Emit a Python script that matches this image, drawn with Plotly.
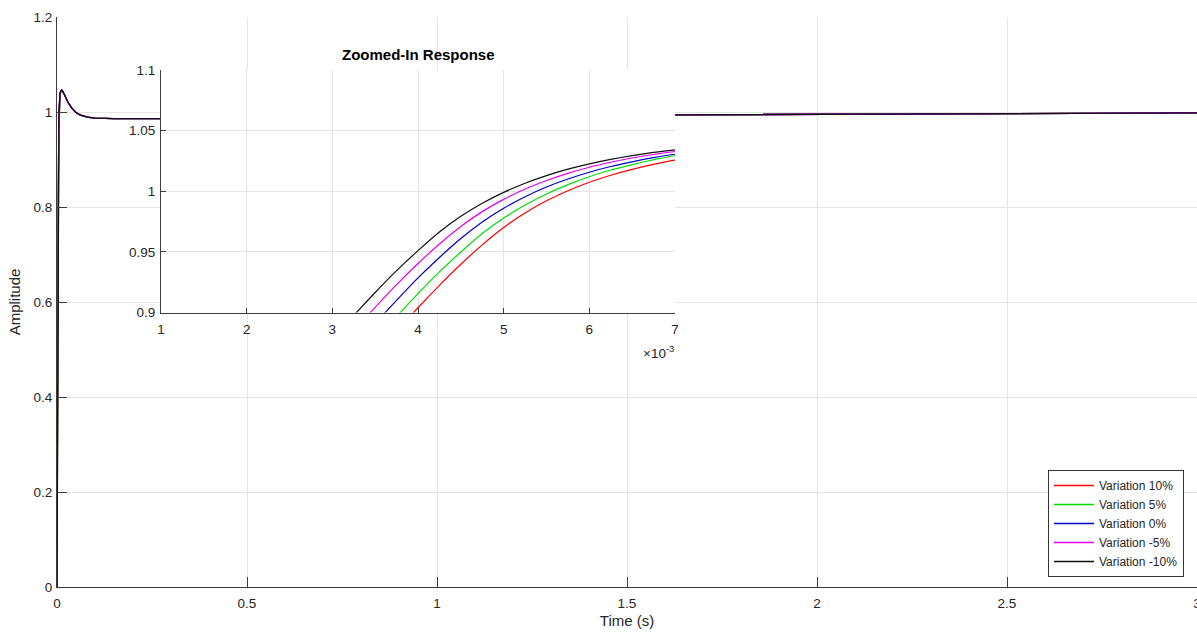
import plotly.graph_objects as go

# Time base in seconds: dense through the rise, coarse once the response settles
time_s = [0, 0.0005, 0.001, 0.0015, 0.002, 0.0025,
          0.003, 0.00325, 0.0035, 0.00375, 0.004, 0.00425, 0.0045, 0.00475,
          0.005, 0.00525, 0.0055, 0.00575, 0.006, 0.00625, 0.0065, 0.00675, 0.007,
          0.008, 0.009, 0.010, 0.011, 0.012, 0.014, 0.016, 0.020,
          0.025, 0.03, 0.04, 0.05, 0.06, 0.08, 0.1, 0.15, 0.27, 0.5, 1.0, 1.6, 2.0, 2.5, 3.0]

# Step-response amplitude for each parameter variation
amp_var_p10 = [0, 0.03, 0.22, 0.45, 0.665, 0.76,
               0.8149, 0.8403, 0.8632, 0.8843, 0.9039, 0.9224, 0.9398, 0.9558,
               0.9701, 0.9821, 0.9921, 1.0004, 1.0074, 1.0132, 1.0181, 1.0222, 1.0257,
               1.0335, 1.0382, 1.0414, 1.0435, 1.0447, 1.0444, 1.042, 1.0352,
               1.027, 1.019, 1.007, 0.999, 0.994, 0.989, 0.987, 0.986, 0.986, 0.988, 0.991, 0.994, 0.9953, 0.9967, 0.998]
amp_var_p5 = [0, 0.04, 0.26, 0.48, 0.69, 0.78,
              0.8314, 0.8548, 0.8767, 0.8966, 0.9156, 0.9335, 0.9499, 0.9652,
              0.9779, 0.9886, 0.9978, 1.0055, 1.012, 1.0175, 1.022, 1.026, 1.0293,
              1.0362, 1.0402, 1.0428, 1.0445, 1.0455, 1.0448, 1.0424, 1.0354,
              1.027, 1.019, 1.007, 0.999, 0.994, 0.989, 0.987, 0.986, 0.986, 0.988, 0.991, 0.994, 0.9953, 0.9967, 0.998]
amp_var_0 = [0, 0.06, 0.30, 0.52, 0.715, 0.80,
             0.848, 0.870, 0.891, 0.910, 0.9285, 0.9454, 0.961, 0.9746,
             0.986, 0.9955, 1.0035, 1.0101, 1.0157, 1.0204, 1.0243, 1.0277, 1.0305,
             1.0372, 1.0409, 1.0434, 1.045, 1.0458, 1.045, 1.0426, 1.0356,
             1.027, 1.019, 1.007, 0.999, 0.994, 0.989, 0.987, 0.986, 0.986, 0.988, 0.991, 0.994, 0.9953, 0.9967, 0.998]
amp_var_m5 = [0, 0.08, 0.33, 0.55, 0.735, 0.815,
              0.8634, 0.8847, 0.9043, 0.923, 0.9404, 0.9565, 0.971, 0.9832,
              0.9933, 1.0018, 1.0089, 1.0148, 1.0198, 1.0239, 1.0274, 1.0303, 1.0328,
              1.0387, 1.042, 1.0442, 1.0456, 1.0462, 1.0453, 1.0428, 1.0358,
              1.027, 1.019, 1.007, 0.999, 0.994, 0.989, 0.987, 0.986, 0.986, 0.988, 0.991, 0.994, 0.9953, 0.9967, 0.998]
amp_var_m10 = [0, 0.10, 0.36, 0.57, 0.76, 0.832,
               0.8775, 0.8975, 0.9165, 0.9345, 0.951, 0.9664, 0.9793, 0.9901,
               0.9991, 1.0066, 1.0129, 1.0182, 1.0226, 1.0263, 1.0294, 1.032, 1.0342,
               1.0398, 1.0428, 1.0448, 1.046, 1.0465, 1.0455, 1.043, 1.036,
               1.027, 1.019, 1.007, 0.999, 0.994, 0.989, 0.987, 0.986, 0.986, 0.988, 0.991, 0.994, 0.9953, 0.9967, 0.998]

series_names = ["Variation 10%", "Variation 5%", "Variation 0%", "Variation -5%", "Variation -10%"]
series_values = [amp_var_p10, amp_var_p5, amp_var_0, amp_var_m5, amp_var_m10]
series_colors = ["#ff0000", "#00e000", "#0000c8", "#e600e6", "#111111"]

main_x_ticks = [0, 0.5, 1, 1.5, 2, 2.5, 3]
main_x_labels = ["0", "0.5", "1", "1.5", "2", "2.5", "3"]
main_y_ticks = [0, 0.2, 0.4, 0.6, 0.8, 1.0, 1.2]
main_y_labels = ["0", "0.2", "0.4", "0.6", "0.8", "1", "1.2"]
inset_x_ticks = [0.001, 0.002, 0.003, 0.004, 0.005, 0.006, 0.007]
inset_x_labels = ["1", "2", "3", "4", "5", "6", "7"]
inset_y_ticks = [0.9, 0.95, 1.0, 1.05, 1.1]
inset_y_labels = ["0.9", "0.95", "1", "1.05", "1.1"]

FONT = "Liberation Sans, Arial, Helvetica, sans-serif"
TXT = "#262626"
AXC = "#3c3c3c"
GRID = "#e4e4e4"

fig = go.Figure()

# Full response on the main axes
for name, vals, col in zip(series_names, series_values, series_colors):
    fig.add_trace(go.Scatter(x=time_s, y=vals, mode="lines", name=name,
                             line=dict(color=col, width=1.3),
                             xaxis="x", yaxis="y", showlegend=True))

# Same responses on the zoomed inset axes (smoothed between samples)
for name, vals, col in zip(series_names, series_values, series_colors):
    fig.add_trace(go.Scatter(x=time_s, y=vals, mode="lines", name=name,
                             line=dict(color=col, width=1.2, shape="spline", smoothing=0.8),
                             xaxis="x2", yaxis="y2", showlegend=False))

W, H = 1197, 632
ML, MR, MT, MB = 57, 0, 17, 45
pw, ph = W - ML - MR, H - MT - MB


def px_x(px):
    return (px - ML) / pw


def px_y(py):
    return (H - MB - py) / ph


axis_common = dict(showline=True, linecolor=AXC, linewidth=1, mirror=False,
                   ticks="inside", tickcolor=AXC, tickwidth=1, automargin=False,
                   showgrid=True, gridcolor=GRID, gridwidth=1, zeroline=False,
                   ticklabeloverflow="allow",
                   tickfont=dict(family=FONT, size=13.5, color=TXT))

fig.update_layout(
    width=W, height=H,
    margin=dict(l=ML, r=MR, t=MT, b=MB, pad=0, autoexpand=False),
    paper_bgcolor="white", plot_bgcolor="white",
    font=dict(family=FONT, color=TXT),
    xaxis=dict(domain=[0, 1], range=[0, 3], tickmode="array",
               tickvals=main_x_ticks, ticktext=main_x_labels, ticklen=10,
               ticklabelstandoff=4,
               title=dict(text="Time (s)", standoff=5,
                          font=dict(family=FONT, size=15, color=TXT)),
               anchor="y", **axis_common),
    yaxis=dict(domain=[0, 1], range=[0, 1.2], tickmode="array",
               tickvals=main_y_ticks, ticktext=main_y_labels, ticklen=10,
               ticklabelstandoff=1,
               title=dict(text="Amplitude", standoff=9,
                          font=dict(family=FONT, size=15, color=TXT)),
               anchor="x", **axis_common),
    xaxis2=dict(domain=[px_x(161), px_x(675)], range=[0.001, 0.007],
                tickmode="array", tickvals=inset_x_ticks, ticktext=inset_x_labels,
                ticklen=5, ticklabelstandoff=4, anchor="y2", **axis_common),
    yaxis2=dict(domain=[px_y(312.5), px_y(70)], range=[0.9, 1.1],
                tickmode="array", tickvals=inset_y_ticks, ticktext=inset_y_labels,
                ticklen=5, ticklabelstandoff=2, anchor="x2", **axis_common),
    legend=dict(x=px_x(1184), y=px_y(577), xanchor="right", yanchor="bottom",
                bgcolor="white", bordercolor="#333333", borderwidth=1,
                font=dict(family=FONT, size=12, color=TXT),
                itemwidth=40, tracegroupgap=0),
    annotations=[
        dict(text="<b>Zoomed-In Response</b>", xref="paper", yref="paper",
             x=px_x(418), y=px_y(55), xanchor="center", yanchor="middle",
             showarrow=False, font=dict(family=FONT, size=15, color="#000000")),
        dict(text="\u00d710<sup>-3</sup>", xref="paper", yref="paper",
             x=px_x(676), y=px_y(352), xanchor="right", yanchor="middle",
             showarrow=False, font=dict(family=FONT, size=13.5, color=TXT)),
    ],
)

fig.write_html("out.html")
